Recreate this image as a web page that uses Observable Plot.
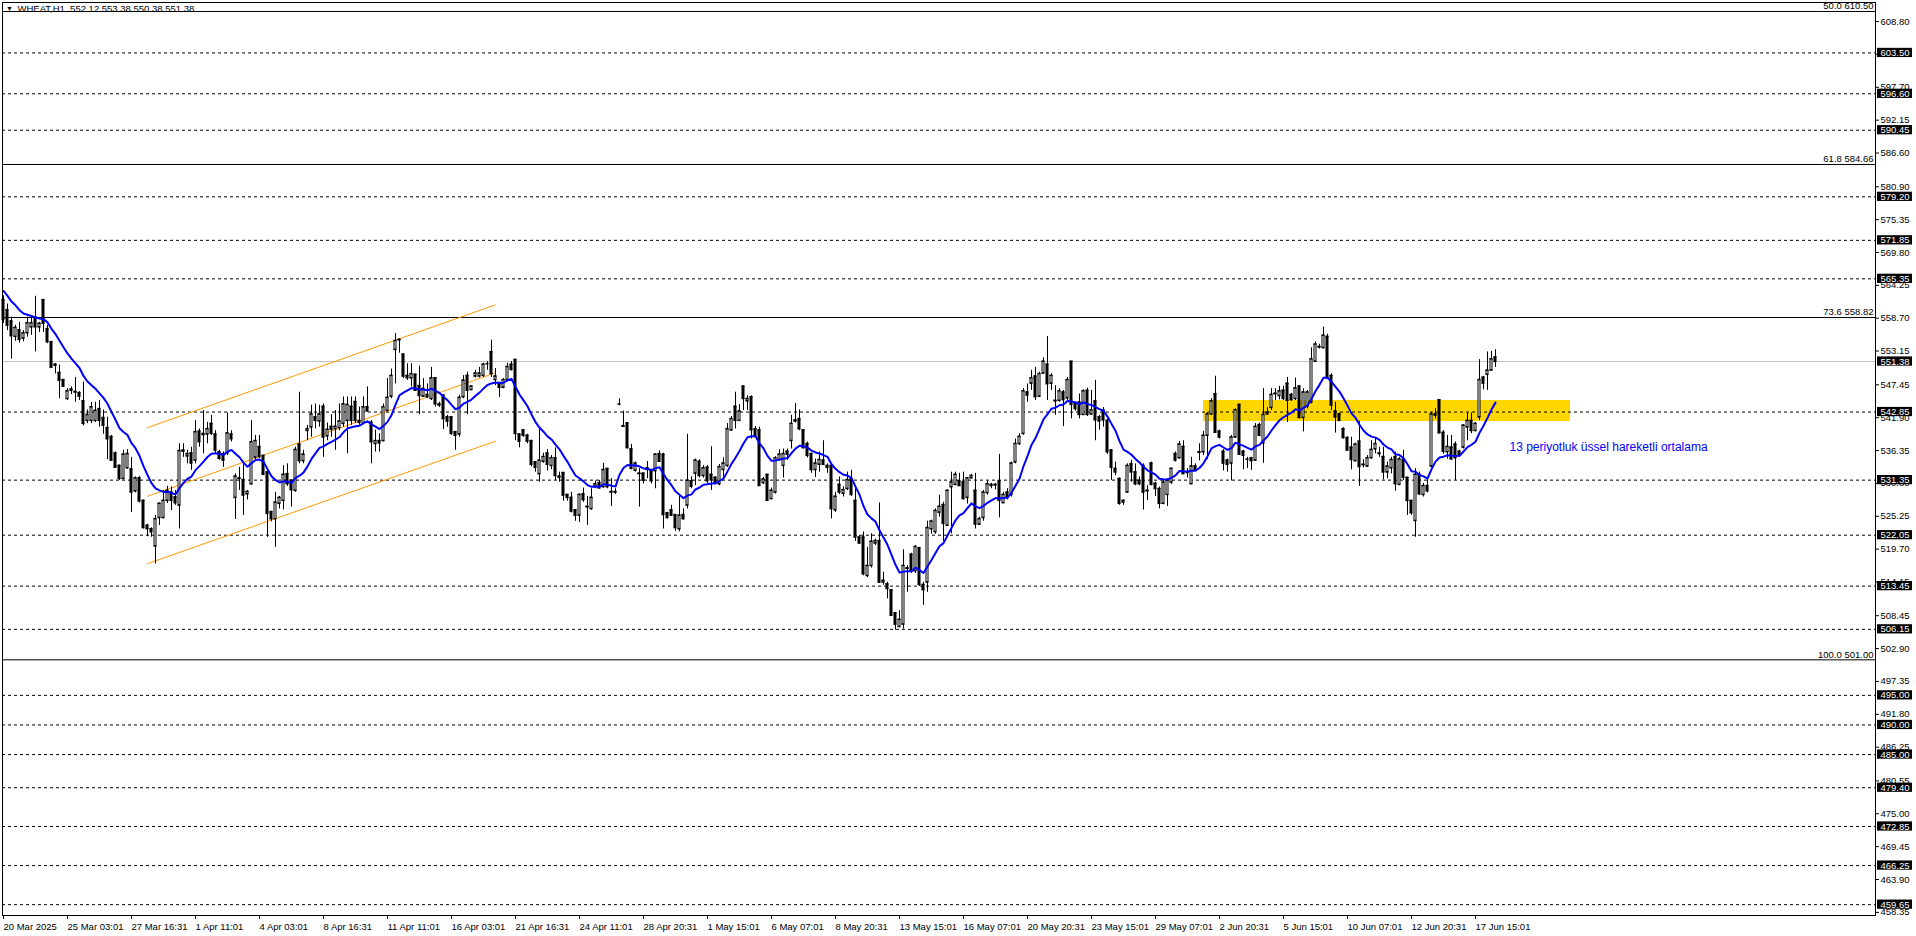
<!DOCTYPE html>
<html><head><meta charset="utf-8">
<script src="https://cdn.jsdelivr.net/npm/d3@7"></script>
<script src="https://cdn.jsdelivr.net/npm/@observablehq/plot@0.6"></script>
<style>html,body{margin:0;padding:0;background:#fff;overflow:hidden}svg{display:block}</style>
</head><body><div id="chart"></div>
<script>
// H1 candles, bar index 0..373
const open = [
561.8,560.1,558.2,555.6,556.7,555.3,556.2,557.2,558.9,557.2,
561.8,556.9,554.7,550.9,549.5,548.3,545.1,546.5,546.2,546.1,
544.7,541.4,541.4,541.4,543.4,541.9,540.2,538.7,535.9,533.8,
531.6,533.4,533.2,529.5,531.7,527.9,523.7,523.1,520.2,525.0,
525.0,527.9,529.3,528.5,527.1,536.4,535.4,535.9,534.7,539.6,
539.2,539.1,540.9,539.1,536.1,535.8,535.9,539.1,528.4,531.7,
531.4,529.0,530.7,535.2,537.0,535.5,532.7,526.0,524.8,527.4,
527.9,532.4,531.3,529.6,537.4,534.6,539.7,540.3,542.0,541.3,
543.8,538.8,540.4,540.0,540.2,540.9,541.4,543.8,544.6,541.4,
540.9,543.7,541.1,537.5,538.0,538.0,543.1,545.5,553.4,555.0,
552.6,549.0,548.6,549.2,547.3,545.5,545.8,545.1,548.6,544.2,
545.7,542.0,542.0,539.5,539.1,545.4,549.0,546.6,548.9,548.9,
549.0,551.0,553.0,548.3,547.8,547.0,548.3,550.9,551.7,539.1,
539.8,538.9,538.0,534.4,532.4,534.5,535.9,533.8,535.1,532.0,
532.6,528.9,528.4,526.3,525.4,529.0,526.9,526.5,530.3,530.9,
530.2,533.3,529.4,529.3,544.2,540.5,541.0,536.6,533.0,532.5,
532.5,533.4,533.1,532.9,535.8,535.7,525.8,526.3,525.5,523.1,
525.5,527.1,531.2,532.5,534.5,532.1,533.5,532.3,531.8,530.7,
533.1,533.8,539.8,543.8,541.4,547.2,544.7,545.4,540.0,539.8,
530.9,532.3,528.2,529.3,534.8,533.8,536.2,538.0,541.5,541.7,
539.8,537.5,535.8,533.1,534.0,534.7,533.8,533.8,526.3,530.6,
529.1,529.9,531.6,527.9,521.7,521.7,515.2,516.9,520.7,521.1,
514.1,513.8,512.8,508.9,506.6,507.0,516.5,518.8,516.0,519.9,
513.7,514.1,523.1,522.6,525.9,527.2,523.7,530.2,530.6,531.2,
531.0,528.4,531.7,529.6,523.9,525.0,529.2,530.6,530.5,531.2,
527.5,529.3,528.9,534.4,537.5,539.2,546.2,547.7,548.9,545.5,
549.4,550.9,547.7,544.8,544.8,546.2,545.2,551.4,544.4,544.5,
542.4,546.5,542.5,544.7,542.0,543.2,541.4,536.4,533.3,531.6,
527.6,529.3,534.1,532.7,531.3,533.8,529.6,534.2,530.8,529.9,
527.4,528.9,531.0,535.8,535.1,537.0,532.7,530.7,533.7,536.0,
536.1,538.9,542.5,545.9,539.6,536.2,534.7,534.2,538.6,544.1,
536.2,534.9,535.1,534.7,540.7,537.6,542.5,543.6,545.9,545.6,
546.5,547.7,545.8,545.1,547.2,541.9,543.8,544.5,551.4,553.9,
553.7,555.6,549.0,543.0,542.5,540.0,538.5,536.9,534.6,537.9,
534.0,533.7,535.1,536.6,535.8,535.3,532.7,533.4,535.3,530.6,
534.8,531.8,527.9,524.5,532.3,528.9,530.4,533.7,542.5,544.9,
539.4,536.1,536.9,537.4,536.2,536.9,540.3,541.4,539.7,542.0,
548.7,549.2,549.9,552.12];
const high = [
562.5,561.1,558.9,557.5,558.0,556.6,558.9,558.9,562.4,558.0,
561.8,557.5,554.7,551.0,550.8,548.3,546.8,547.1,548.7,546.3,
547.9,543.2,544.5,544.5,544.8,543.2,542.0,538.9,536.1,533.9,
536.4,536.5,535.2,531.9,532.0,528.0,523.9,523.3,525.4,527.5,
529.6,530.3,530.2,529.6,537.5,537.5,536.4,536.9,541.4,540.0,
543.1,541.1,542.3,539.7,536.4,536.1,542.7,539.7,532.4,533.5,
534.1,529.6,541.4,538.9,538.9,535.5,532.7,526.0,529.3,528.6,
533.8,534.1,531.3,536.9,546.2,536.4,540.6,544.0,544.2,544.0,
544.2,541.0,542.4,543.1,544.2,545.4,545.4,545.4,545.4,543.7,
545.4,547.1,541.4,539.8,539.2,544.2,548.5,550.1,556.1,555.2,
552.6,551.0,551.0,549.2,550.6,548.5,547.6,550.4,548.6,544.5,
545.7,542.3,542.0,539.5,545.7,549.0,549.6,547.2,549.9,550.4,
551.1,551.4,555.0,550.2,547.8,548.5,551.1,551.4,551.7,539.2,
539.8,539.1,538.0,534.4,540.2,535.9,536.5,535.5,536.8,532.7,
532.6,528.9,529.3,526.3,529.0,530.0,528.6,529.9,531.2,531.3,
534.2,533.3,531.6,529.9,545.1,543.0,541.0,537.4,534.4,533.3,
532.5,534.5,533.1,535.8,536.3,535.9,525.9,527.1,525.5,528.6,
526.5,539.1,531.9,534.9,534.8,533.8,533.8,537.0,531.9,534.0,
535.1,540.9,542.1,546.2,544.1,547.3,545.6,545.6,540.4,540.3,
531.8,532.3,530.0,535.3,536.5,536.6,536.6,542.3,544.3,543.2,
539.8,537.8,535.9,534.9,536.1,538.0,534.1,534.1,529.3,531.9,
530.2,532.7,533.0,529.9,522.0,522.6,520.0,522.3,521.4,527.5,
515.8,514.1,512.8,509.0,509.3,519.6,516.9,519.0,520.3,519.9,
514.1,524.4,524.6,526.5,528.8,527.6,529.7,532.7,532.7,532.5,
532.7,531.8,532.3,532.5,525.1,529.6,531.2,530.8,530.8,535.7,
529.3,529.9,534.4,538.3,539.2,546.8,547.6,549.9,550.4,549.6,
552.0,555.6,549.3,547.3,546.8,546.5,548.7,551.4,544.5,545.9,
546.6,546.9,546.5,548.2,542.3,543.6,541.7,536.5,534.4,531.7,
528.0,534.1,534.7,534.1,531.9,534.1,530.4,534.4,531.0,530.2,
531.3,531.6,533.4,536.1,537.9,538.0,533.3,535.2,534.1,537.5,
539.6,542.8,545.1,548.9,539.8,536.5,534.9,538.9,543.4,544.2,
536.4,535.2,535.2,540.9,541.0,546.8,543.6,546.8,546.8,547.2,
547.2,548.7,546.0,548.6,547.3,546.8,546.5,553.7,554.7,554.3,
557.2,556.0,549.3,544.5,542.7,540.2,538.7,538.6,537.6,541.3,
534.8,535.5,538.0,538.5,536.9,536.9,534.4,535.2,536.1,535.2,
536.4,531.8,527.9,533.3,532.7,530.8,531.8,542.8,543.4,544.9,
539.7,538.9,538.9,537.8,536.4,540.7,542.7,542.7,541.1,551.7,
548.9,553.0,553.1,553.38];
const low = [
557.8,556.6,551.8,554.8,554.5,554.7,555.5,555.8,553.0,556.3,
556.3,554.4,550.2,549.3,545.1,547.1,544.8,545.8,544.5,544.8,
540.5,540.9,540.9,541.1,540.3,539.1,534.8,534.6,533.4,531.3,
531.4,533.2,525.9,529.2,527.5,523.1,521.8,521.7,517.2,523.7,
524.8,527.4,526.2,527.1,523.1,535.2,534.1,533.0,534.1,536.9,
535.8,537.5,538.9,535.8,534.7,533.5,535.5,537.8,524.7,529.6,
525.4,528.0,530.5,534.5,535.0,532.1,521.7,524.3,520.0,526.5,
526.3,530.3,526.8,529.3,534.1,534.1,538.0,538.6,540.0,540.3,
535.2,538.0,538.6,536.4,539.7,540.3,535.8,540.6,540.9,540.6,
540.9,542.8,534.1,536.1,536.1,537.8,542.8,545.1,547.6,552.8,
548.5,548.2,547.1,546.4,542.4,545.4,545.1,544.8,543.7,543.6,
539.9,540.3,538.9,536.4,538.6,545.1,542.4,546.5,548.6,548.6,
548.7,549.9,548.7,547.3,545.3,546.8,548.2,549.8,538.0,536.8,
538.6,537.5,533.6,532.7,531.0,534.2,532.9,533.1,531.3,531.0,
527.8,527.8,525.8,524.4,524.2,527.6,523.7,526.3,529.9,529.9,
530.0,529.9,526.9,528.9,543.9,540.4,536.6,533.1,532.7,526.8,
530.7,531.6,530.7,529.9,534.4,523.1,524.8,525.2,522.7,522.6,
524.6,526.5,529.9,530.4,531.7,531.7,530.7,529.6,530.8,530.4,
531.4,533.5,539.6,540.0,541.3,543.1,543.1,538.3,538.5,530.3,
530.6,527.8,528.0,529.0,534.5,531.7,534.7,536.6,541.0,539.7,
536.6,535.1,532.5,531.8,532.7,533.8,532.5,524.8,525.9,528.9,
528.5,529.6,528.6,521.0,520.5,515.2,514.9,516.5,520.3,513.9,
513.6,511.3,508.3,506.0,506.4,506.2,512.4,515.6,515.6,513.4,
510.2,512.4,522.2,522.2,525.1,521.0,523.5,522.3,530.4,530.3,
528.0,527.3,531.6,523.1,523.7,524.4,528.8,529.9,529.7,525.0,
527.4,528.0,528.5,534.1,537.2,538.9,544.5,546.5,544.8,545.4,
549.3,544.8,546.5,542.3,544.5,540.4,544.8,541.7,543.0,541.7,
542.3,542.1,542.3,538.0,539.8,540.3,535.7,531.3,532.1,527.1,
527.1,529.2,531.0,530.4,530.4,526.3,527.9,530.4,528.6,526.5,
527.2,526.9,530.6,534.4,534.9,532.3,531.7,530.6,532.9,534.6,
535.5,534.8,542.3,539.3,538.3,532.9,532.7,531.2,538.5,535.5,
533.1,533.3,533.0,534.6,538.7,534.2,542.3,543.1,544.8,544.9,
544.8,541.1,544.7,544.8,541.7,539.5,543.4,544.2,551.3,553.5,
553.5,548.5,543.1,539.3,541.3,538.3,536.3,533.1,534.4,530.3,
533.4,533.5,534.9,535.8,535.2,531.4,531.6,532.4,529.5,530.4,
531.3,525.4,525.4,521.7,528.8,528.5,529.2,533.5,541.7,539.2,
535.7,534.9,534.7,531.3,535.2,536.6,538.0,539.2,539.5,541.4,
546.6,546.5,549.8,550.38];
const close = [
558.5,557.5,555.7,557.1,555.1,556.2,557.9,557.9,557.2,557.8,
557.8,554.7,550.4,550.7,548.2,547.2,546.4,546.7,546.3,545.5,
540.9,542.4,543.7,543.1,541.4,540.6,538.3,534.7,533.5,531.6,
535.7,535.8,529.3,531.7,527.8,523.3,523.1,522.6,524.8,527.4,
527.9,529.6,527.9,527.5,536.3,536.2,535.8,534.2,539.5,537.8,
539.0,540.0,539.2,536.4,535.0,534.7,539.3,538.3,532.0,531.6,
528.8,529.4,537.8,538.0,535.3,532.3,525.7,524.8,527.6,528.4,
532.3,530.7,529.7,536.5,534.6,535.7,540.0,542.5,541.4,542.5,
538.6,539.9,539.9,540.4,541.3,544.2,544.1,541.4,541.4,541.1,
543.7,543.0,537.8,538.0,537.6,543.7,545.3,549.0,554.9,555.1,
548.9,548.6,549.3,546.5,545.6,546.8,545.4,548.6,544.2,544.0,
541.7,541.3,539.2,538.9,545.3,548.2,546.5,547.2,549.4,549.4,
550.9,551.0,549.3,548.9,547.0,548.3,550.5,550.0,539.2,537.9,
538.9,537.9,534.0,533.5,534.7,535.3,534.0,535.1,532.1,531.8,
528.8,528.4,526.1,525.4,528.9,528.0,526.8,528.4,530.7,530.0,
533.1,530.2,529.3,529.4,544.2,540.4,536.8,533.3,534.2,532.4,
531.3,533.1,531.2,535.7,534.5,525.5,525.0,525.4,523.3,525.4,
524.8,531.3,530.3,534.7,532.1,533.4,531.2,531.4,531.0,533.6,
534.2,540.0,541.7,541.4,543.0,545.1,545.1,539.8,538.7,530.4,
531.5,527.9,529.6,535.1,535.7,535.8,535.7,540.9,541.3,540.0,
536.8,535.5,533.1,534.2,534.8,534.0,533.5,526.5,528.6,529.3,
529.7,531.4,528.9,521.7,520.7,515.5,516.9,521.0,521.1,514.1,
514.4,513.0,508.5,507.0,507.8,516.9,516.4,516.0,520.1,513.7,
512.8,523.3,524.4,526.2,526.9,524.0,529.6,531.0,532.3,530.4,
528.2,531.7,532.1,523.9,524.8,529.3,530.7,530.4,530.6,527.9,
528.9,528.5,534.2,537.5,538.7,546.4,545.7,548.6,545.4,549.3,
551.4,547.6,549.0,544.7,546.4,544.9,548.3,544.1,543.4,542.4,
546.4,542.4,543.2,541.5,541.3,541.5,536.1,533.5,532.7,527.4,
527.9,533.8,532.7,530.7,530.7,529.3,529.5,530.6,529.9,527.4,
531.0,531.3,533.3,534.7,537.4,532.4,532.6,533.7,533.1,536.1,
538.9,542.5,544.7,539.4,538.6,534.2,534.0,538.6,543.2,535.7,
535.5,534.9,534.6,540.4,538.9,542.4,542.8,545.8,546.0,546.4,
545.1,544.8,544.9,546.9,541.9,546.2,546.2,551.8,554.3,553.8,
555.8,548.6,544.0,542.0,541.4,538.5,536.4,534.8,537.4,533.6,
533.9,535.1,536.5,537.5,535.9,532.7,533.7,534.8,530.7,534.9,
531.8,527.9,525.8,532.3,529.0,530.4,529.5,542.5,542.3,539.3,
536.2,537.0,534.9,535.1,535.7,540.6,541.4,539.7,540.9,548.3,
547.7,549.9,551.8,551.38];

// x-axis labels, one every 16 bars
const xTickLabels = ["20 Mar 2025","25 Mar 03:01","27 Mar 16:31","1 Apr 11:01","4 Apr 03:01","8 Apr 16:31",
"11 Apr 11:01","16 Apr 03:01","21 Apr 16:31","24 Apr 11:01","28 Apr 20:31","1 May 15:01","6 May 07:01",
"8 May 20:31","13 May 15:01","16 May 07:01","20 May 20:31","23 May 15:01","29 May 07:01","2 Jun 20:31",
"5 Jun 15:01","10 Jun 07:01","12 Jun 20:31","17 Jun 15:01"];
const barsPerTick = 16;
// right price axis
const axisTicks = [608.80,603.25,597.70,592.15,586.60,580.90,575.35,569.80,564.25,558.70,553.15,547.45,541.90,
536.35,530.80,525.25,519.70,514.15,508.45,502.90,497.35,491.80,486.25,480.55,475.00,469.45,463.90,458.35];
const levels = [603.50,596.60,590.45,579.20,571.85,565.35,542.85,531.35,522.05,513.45,506.15,495.00,490.00,
485.00,479.40,472.85,466.25,459.65];
const currentPrice = 551.38;
const fibValues = [610.50,584.66,558.82,501.00];
const fibPct = ["50.0","61.8","73.6","100.0"];
// rising channel (bar index, price)
const channelX = [35.9,123.0];
const channelStart = [540.19,528.59,517.22];
const channelEnd = [560.96,549.48,537.93];
// resistance zone
const zoneX = [300,391.75];
const zoneY = [541.25,544.80];
const emaPeriod = 13;
const emaStart = 564.1;
const header = "WHEAT,H1  552.12 553.38 550.38 551.38";
const note = "13 periyotluk üssel hareketli ortalama";
const noteAt = [376.5,536.86];

const bars = close.map((c,i)=>({i, o:open[i], h:high[i], l:low[i], c}));
{ let e = emaStart; const k = 2/(emaPeriod+1); for (const b of bars){ e = e + k*(b.c-e); b.ema = e; } }
const up = bars.filter(b=>b.c>=b.o), dn = bars.filter(b=>b.c<b.o);
const X0=-0.25, X1=468, Y0=457.82, Y1=612.02;
const PY = 1/5.921; // price per pixel
const tickIdx = xTickLabels.map((d,k)=>k*barsPerTick);
const channels = channelStart.map((s,k)=>({s, e:channelEnd[k]}));

const chart = Plot.plot({
  width:1916, height:936,
  marginTop:2, marginBottom:21, marginLeft:2, marginRight:41,
  x:{domain:[X0,X1], axis:null},
  y:{domain:[Y0,Y1], axis:null},
  style:{fontFamily:"'Liberation Sans', Arial, sans-serif", fontSize:"9.5px", background:"#fff", color:"#000"},
  marks:[
    Plot.rect([0],{x1:()=>zoneX[0], x2:()=>zoneX[1], y1:()=>zoneY[0], y2:()=>zoneY[1], fill:"#ffd700"}),
    Plot.ruleY([currentPrice],{stroke:"#c0c0c0"}),
    Plot.ruleY(levels,{stroke:"#000", strokeDasharray:"3,3"}),
    Plot.ruleY(fibValues,{stroke:"#000"}),
    Plot.link(channels,{x1:()=>channelX[0], x2:()=>channelX[1], y1:"s", y2:"e", stroke:"#ff9900", strokeWidth:1}),
    Plot.ruleX(bars,{x:"i", y1:"l", y2:"h", stroke:"#000"}),
    Plot.rect(up,{x1:d=>d.i-0.25, x2:d=>d.i+0.25, y1:"o", y2:"c", fill:"#fff", stroke:"#000"}),
    Plot.rect(dn,{x1:d=>d.i-0.25, x2:d=>d.i+0.25, y1:"o", y2:"c", fill:"#000", stroke:"#000"}),
    Plot.ruleY(bars,{y:"c", x1:d=>d.i-0.375, x2:d=>d.i+0.375, stroke:"#000"}),
    Plot.ruleY(bars,{y:"o", x1:d=>d.i-0.375, x2:d=>d.i+0.375, stroke:"#000"}),
    Plot.line(bars,{x:"i", y:"ema", stroke:"#0000ff", strokeWidth:2}),
    Plot.frame({stroke:"#000"}),
    // fib labels
    Plot.text(fibValues,{x:()=>X1, y:d=>d, dx:-2, dy:-2, textAnchor:"end", lineAnchor:"bottom",
      text:(d,k)=>fibPct[k]+" "+d.toFixed(2), fill:"#000"}),
    // right axis ticks & labels
    Plot.ruleY(axisTicks,{y:d=>d, x1:()=>X1, x2:()=>X1+1, stroke:"#000"}),
    Plot.text(axisTicks,{x:()=>X1, y:d=>d, dx:5, textAnchor:"start", text:d=>d.toFixed(2), fill:"#000"}),
    Plot.rect(levels.concat([currentPrice]),{x1:()=>X1+0.5, x2:()=>X1+9.25, y1:d=>d-0.78, y2:d=>d+0.78, fill:"#000"}),
    Plot.text(levels.concat([currentPrice]),{x:()=>X1, y:d=>d, dx:5, textAnchor:"start", text:d=>d.toFixed(2), fill:"#fff"}),
    // bottom axis
    Plot.ruleX(tickIdx,{x:d=>d, y1:()=>Y0, y2:()=>Y0-4*PY, stroke:"#000"}),
    Plot.text(tickIdx,{x:d=>d, y:()=>Y0, dy:11, dx:0, textAnchor:"start", text:(d,k)=>xTickLabels[k], fill:"#000"}),
    // header
    Plot.text(["\u25BC"],{x:()=>X0, y:()=>Y1, dx:7, dy:6, fontSize:7, fill:"#000"}),
    Plot.text([header],{x:()=>X0, y:()=>Y1, dx:15, dy:6, textAnchor:"start", fill:"#000"}),
    // annotation
    Plot.text([note],{x:()=>noteAt[0], y:()=>noteAt[1], textAnchor:"start", fill:"#0000ff", fontSize:12})
  ]
});
document.getElementById("chart").appendChild(chart);
</script></body></html>
